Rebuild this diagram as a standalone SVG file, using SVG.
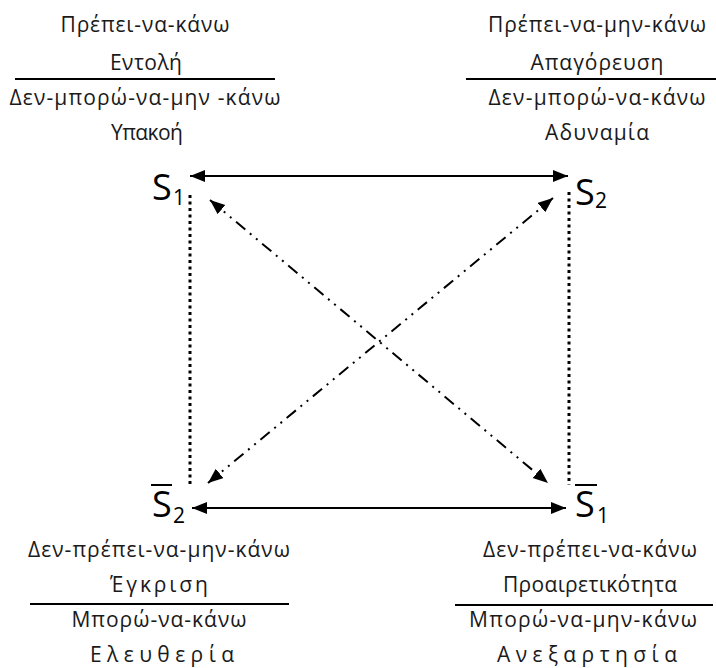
<svg xmlns="http://www.w3.org/2000/svg" width="716" height="668" viewBox="0 0 716 668">
<style>
  .t { font-family: "Open Sans", "Noto Sans", "DejaVu Sans", sans-serif; font-size: 21px; fill: #1a1a1a; text-anchor: middle; }
  .s { font-family: "Open Sans", "Noto Sans", "DejaVu Sans", sans-serif; font-size: 36px; fill: #000; }
  .sub { font-family: "Open Sans", "Noto Sans", "DejaVu Sans", sans-serif; font-size: 21px; fill: #000; }
  .rule { stroke: #000; stroke-width: 2; }
  .solid { stroke: #000; stroke-width: 2; fill: none; }
  .dotted { stroke: #000; stroke-width: 3; stroke-dasharray: 3 3.5; fill: none; }
  .dashdot { stroke: #000; stroke-width: 2; stroke-dasharray: 12 6 2 6 2 6; fill: none; }
</style>
<defs>
  <marker id="ah" markerUnits="userSpaceOnUse" markerWidth="16" markerHeight="14" refX="15" refY="6" orient="auto-start-reverse">
    <path d="M0,0 L15,6 L0,12 z" fill="#000"/>
  </marker>
</defs>
<rect width="716" height="668" fill="#fff"/>

<g id="connectors">
  <line class="solid" x1="190" y1="176" x2="568" y2="176" marker-start="url(#ah)" marker-end="url(#ah)"/>
  <line class="solid" x1="192" y1="508" x2="566" y2="508" marker-start="url(#ah)" marker-end="url(#ah)"/>
  <line class="dotted" x1="190" y1="195" x2="190" y2="487"/>
  <line class="dotted" x1="569" y1="192" x2="569" y2="485"/>
  <line class="dashdot" x1="210" y1="200" x2="548" y2="483" marker-start="url(#ah)" marker-end="url(#ah)"/>
  <line class="dashdot" x1="208" y1="483" x2="553" y2="198" marker-start="url(#ah)" marker-end="url(#ah)"/>
</g>

<g id="node-s1">
  <text class="s" x="152" y="200">S</text>
  <text class="sub" x="173" y="205">1</text>
</g>
<g id="node-s2">
  <text class="s" x="575" y="205">S</text>
  <text class="sub" x="595" y="208">2</text>
</g>
<g id="node-not-s2">
  <line class="rule" x1="151" y1="485" x2="172" y2="485"/>
  <text class="s" x="152" y="517">S</text>
  <text class="sub" x="173" y="523">2</text>
</g>
<g id="node-not-s1">
  <line class="rule" x1="575" y1="485" x2="597" y2="485"/>
  <text class="s" x="575" y="517">S</text>
  <text class="sub" x="597" y="523">1</text>
</g>

<g id="label-top-left">
  <text class="t" x="145" y="32" textLength="169" lengthAdjust="spacing">Πρέπει-να-κάνω</text>
  <text class="t" x="146" y="70" textLength="72" lengthAdjust="spacing">Εντολή</text>
  <line class="rule" x1="15" y1="79" x2="275" y2="79"/>
  <text class="t" x="145" y="105" textLength="271" lengthAdjust="spacing">Δεν-μπορώ-να-μην -κάνω</text>
  <text class="t" x="147" y="140" textLength="72" lengthAdjust="spacing">Υπακοή</text>
</g>
<g id="label-top-right">
  <text class="t" x="597" y="32" textLength="218" lengthAdjust="spacing">Πρέπει-να-μην-κάνω</text>
  <text class="t" x="597" y="70" textLength="133" lengthAdjust="spacing">Απαγόρευση</text>
  <line class="rule" x1="466" y1="79" x2="716" y2="79"/>
  <text class="t" x="597" y="105" textLength="217" lengthAdjust="spacing">Δεν-μπορώ-να-κάνω</text>
  <text class="t" x="597" y="140" textLength="104" lengthAdjust="spacing">Αδυναμία</text>
</g>
<g id="label-bottom-left">
  <text class="t" x="159" y="557" textLength="262" lengthAdjust="spacing">Δεν-πρέπει-να-μην-κάνω</text>
  <text class="t" x="159" y="592" textLength="98" lengthAdjust="spacing">Έγκριση</text>
  <line class="rule" x1="30" y1="604" x2="289" y2="604"/>
  <text class="t" x="159" y="627" textLength="175" lengthAdjust="spacing">Μπορώ-να-κάνω</text>
  <text class="t" x="162" y="662" textLength="144" lengthAdjust="spacing">Ελευθερία</text>
</g>
<g id="label-bottom-right">
  <text class="t" x="590" y="557" textLength="214" lengthAdjust="spacing">Δεν-πρέπει-να-κάνω</text>
  <text class="t" x="590" y="592" textLength="174" lengthAdjust="spacing">Προαιρετικότητα</text>
  <line class="rule" x1="455" y1="605" x2="713" y2="605"/>
  <text class="t" x="583" y="627" textLength="228" lengthAdjust="spacing">Μπορώ-να-μην-κάνω</text>
  <text class="t" x="587" y="662" textLength="180" lengthAdjust="spacing">Ανεξαρτησία</text>
</g>
</svg>
